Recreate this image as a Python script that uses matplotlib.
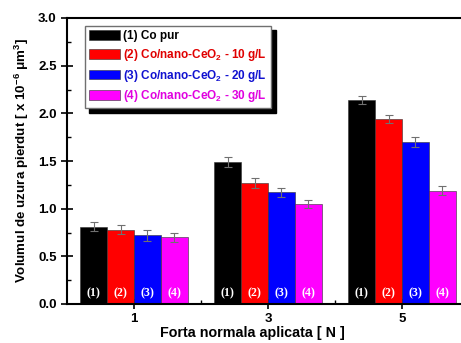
import matplotlib
matplotlib.use("Agg")
import matplotlib.pyplot as plt
import numpy as np
from matplotlib.ticker import MultipleLocator, FixedLocator, FormatStrFormatter

loads = [1, 3, 5]
series_labels = ["(1) Co pur", "(2) Co/nano-CeO$_2$ - 10 g/L",
                 "(3) Co/nano-CeO$_2$ - 20 g/L", "(4) Co/nano-CeO$_2$ - 30 g/L"]
bar_tags = ["(1)", "(2)", "(3)", "(4)"]
co_pur = [0.81, 1.49, 2.14]
ceo2_10 = [0.78, 1.27, 1.94]
ceo2_20 = [0.72, 1.17, 1.70]
ceo2_30 = [0.70, 1.05, 1.19]
err_co_pur = [0.045, 0.05, 0.045]
err_10 = [0.05, 0.05, 0.045]
err_20 = [0.055, 0.045, 0.05]
err_30 = [0.05, 0.045, 0.05]

values = [co_pur, ceo2_10, ceo2_20, ceo2_30]
errors = [err_co_pur, err_10, err_20, err_30]
colors = ["#000000", "#ff0000", "#0000ff", "#ff00ff"]
text_colors = ["#000000", "#e00000", "#1010d0", "#e000e0"]

plt.rcParams['font.family'] = ['Liberation Sans', 'DejaVu Sans']
plt.rcParams['mathtext.fontset'] = 'custom'
plt.rcParams['mathtext.rm'] = 'Liberation Sans:bold'
plt.rcParams['mathtext.it'] = 'Liberation Sans:bold'
plt.rcParams['mathtext.bf'] = 'Liberation Sans:bold'

fig = plt.figure(figsize=(4.61, 3.43), dpi=100)
ax = fig.add_axes([67/461, 39/343, 1 - 67/461, 286/343])

width = 0.4
offsets = [-0.6, -0.2, 0.2, 0.6]
x = np.array(loads, dtype=float)
for i in range(4):
    ax.bar(x + offsets[i], values[i], width, color=colors[i],
           edgecolor="#303030", linewidth=0.4, label=series_labels[i], zorder=2)
    ax.errorbar(x + offsets[i], values[i], yerr=errors[i], fmt='none',
                ecolor="#707070", elinewidth=0.8, capsize=3, capthick=0.8, zorder=3)
    for xi in x:
        ax.text(xi + offsets[i], 0.115, bar_tags[i], color="white",
                ha="center", va="center", fontsize=8.5, fontweight="bold",
                family="Liberation Serif", zorder=4)

ax.set_xlim(0, 5.88)
ax.set_ylim(0, 3.0)
ax.xaxis.set_major_locator(FixedLocator(loads))
ax.xaxis.set_minor_locator(FixedLocator([2, 4]))
ax.yaxis.set_major_locator(MultipleLocator(0.5))
ax.yaxis.set_minor_locator(MultipleLocator(0.25))
ax.yaxis.set_major_formatter(FormatStrFormatter("%.1f"))

ax.tick_params(axis='y', which='major', direction='inout', length=8, width=1.2,
               labelsize=9.5)
ax.tick_params(axis='y', which='minor', direction='in', length=3, width=1)
ax.tick_params(axis='x', which='major', direction='inout', length=7, width=1.2,
               labelsize=9.5, pad=3)
ax.tick_params(axis='x', which='minor', direction='in', length=3, width=1)
for lab in ax.get_xticklabels() + ax.get_yticklabels():
    lab.set_fontweight("bold")

for s in ["left", "bottom", "top"]:
    ax.spines[s].set_linewidth(1.5)
ax.spines["right"].set_visible(False)

ax.set_xlabel("Forta normala aplicata [ N ]", fontsize=10.3, fontweight="bold")
ax.xaxis.set_label_coords((252 - 67) / 394, -0.103)
ax.xaxis.label.set_va("center")
ax.set_ylabel("Volumul de uzura pierdut [ x 10$^{-6}$ $\\mu$m$^3$]", fontsize=9.6,
              fontweight="bold", labelpad=5)

leg = ax.legend(loc="upper left", bbox_to_anchor=(0.046, 0.972),
                prop={'weight': 'bold', 'size': 8.5},
                fancybox=False, shadow={'color': 'black', 'alpha': 1, 'ox': 3, 'oy': -3},
                edgecolor="#707070", framealpha=1, handlelength=2.6,
                handleheight=0.9, labelspacing=0.4, borderpad=0.35,
                handletextpad=0.3, borderaxespad=0)
leg.get_frame().set_linewidth(1.0)
for t, c in zip(leg.get_texts(), text_colors):
    t.set_color(c)

fig.savefig("out.png", dpi=100)
